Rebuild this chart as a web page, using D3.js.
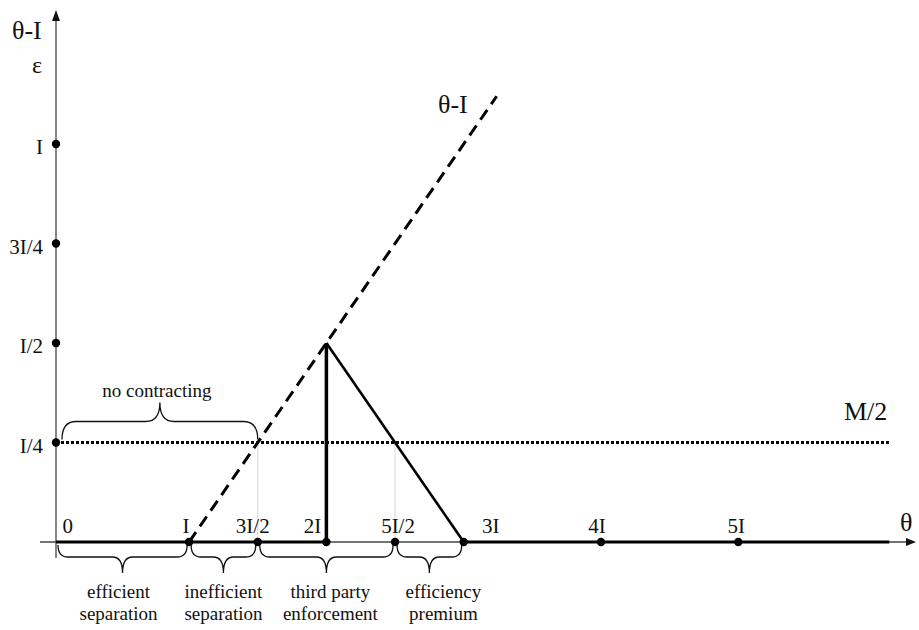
<!DOCTYPE html>
<html>
<head>
<meta charset="utf-8">
<script src="https://cdn.jsdelivr.net/npm/d3@7"></script>
<style>
  html, body { margin: 0; padding: 0; background: #fff; }
  svg { display: block; }
  text { font-family: "Liberation Serif", "Times New Roman", serif; fill: #111; }
</style>
</head>
<body>
<script>
// ---------- data ----------
const xTickValues = [0, 1, 1.5, 2, 2.5, 3, 4, 5];
const xTickLabels = ["0", "I", "3I/2", "2I", "5I/2", "3I", "4I", "5I"];
const xDotValues = [1, 1.5, 2, 2.5, 3, 4, 5];
const yTickValues = [0.25, 0.5, 0.75, 1];
const yTickLabels = ["I/4", "I/2", "3I/4", "I"];
const thetaMinusILine = [[1, 0], [3.24, 1.12]];      // θ - I (dashed)
const verticalAt2I = [[2, 0], [2, 0.5]];
const slopedDown = [[2, 0.5], [3, 0]];
const mHalfLevel = 0.25;                              // M/2 (dotted)
const guideXs = [1.5, 2.5];                           // thin guides from M/2 down to axis
const thickSegments = [[0, 2], [3, 6.1]];
const regionStarts = [0, 1, 1.5, 2.5];
const regionEnds = [1, 1.5, 2.5, 3];
const regionLabels = [["efficient", "separation"], ["inefficient", "separation"], ["third party", "enforcement"], ["efficiency", "premium"]];
const noContractRange = [0, 1.5];
const noContractLabel = "no contracting";

// ---------- layout ----------
const W = 919, H = 630;
const svg = d3.select("body").append("svg").attr("width", W).attr("height", H);
const x = d3.scaleLinear().domain([0, 5]).range([51.8, 738.3]);
const y = d3.scaleLinear().domain([0, 1]).range([542, 144]);
const yAxisX = 56;
const xLabelDx = [16, -3, -5, -14, 3, 27, -4, -2];
const regionLabelDx = [-4, 0, 4, 14];

const line = d3.line().x(d => x(d[0])).y(d => y(d[1]));

// axes
svg.append("line").attr("x1", 40).attr("x2", 908).attr("y1", y(0)).attr("y2", y(0))
  .attr("stroke", "#444").attr("stroke-width", 1.3);
svg.append("path").attr("d", `M916,${y(0)} L906,${y(0) - 4} L906,${y(0) + 4} Z`).attr("fill", "#111");
svg.append("line").attr("x1", yAxisX).attr("x2", yAxisX).attr("y1", 558).attr("y2", 20)
  .attr("stroke", "#444").attr("stroke-width", 1.3);
svg.append("path").attr("d", `M${yAxisX},10 L${yAxisX - 4},21 L${yAxisX + 4},21 Z`).attr("fill", "#111");

// thin guides
guideXs.forEach(v => {
  svg.append("line").attr("x1", x(v)).attr("x2", x(v)).attr("y1", y(mHalfLevel)).attr("y2", y(0))
    .attr("stroke", "#aaa").attr("stroke-width", 1).attr("stroke-dasharray", "1,1");
});

// thick axis segments
thickSegments.forEach(s => {
  svg.append("line").attr("x1", s[0] === 0 ? yAxisX : x(s[0])).attr("x2", x(s[1]))
    .attr("y1", y(0)).attr("y2", y(0)).attr("stroke", "#000").attr("stroke-width", 3.2);
});

// M/2 dotted
svg.append("line").attr("x1", yAxisX).attr("x2", x(6.1)).attr("y1", y(mHalfLevel)).attr("y2", y(mHalfLevel))
  .attr("stroke", "#000").attr("stroke-width", 3).attr("stroke-dasharray", "3,2");

// θ-I dashed
svg.append("path").attr("d", line(thetaMinusILine)).attr("fill", "none")
  .attr("stroke", "#000").attr("stroke-width", 3).attr("stroke-dasharray", "12,7");

// triangle
svg.append("path").attr("d", line(verticalAt2I)).attr("stroke", "#000").attr("stroke-width", 3.5);
svg.append("path").attr("d", line(slopedDown)).attr("stroke", "#000").attr("stroke-width", 2.6);

// dots
xDotValues.forEach(v => svg.append("circle").attr("cx", x(v)).attr("cy", y(0)).attr("r", 4.2).attr("fill", "#000"));
yTickValues.forEach(v => svg.append("circle").attr("cx", yAxisX).attr("cy", y(v)).attr("r", 4.2).attr("fill", "#000"));

// tick labels
xTickValues.forEach((v, i) => {
  svg.append("text").attr("x", x(v) + xLabelDx[i]).attr("y", 533).attr("text-anchor", "middle")
    .attr("font-size", 21).text(xTickLabels[i]);
});
yTickValues.forEach((v, i) => {
  svg.append("text").attr("x", 43).attr("y", y(v) + 10).attr("text-anchor", "end")
    .attr("font-size", 21).text(yTickLabels[i]);
});

// braces
function braceDown(x1, x2, y0) {
  const yh = y0 + 12, yt = y0 + 28, xm = (x1 + x2) / 2, r = 10;
  return `M${x1},${y0} Q${x1},${yh} ${x1 + r},${yh} L${xm - r},${yh} Q${xm},${yh} ${xm},${yt}` +
         ` Q${xm},${yh} ${xm + r},${yh} L${x2 - r},${yh} Q${x2},${yh} ${x2},${y0}`;
}
function braceUp(x1, x2, y0) {
  const yh = y0 - 18, yt = y0 - 37, xm = (x1 + x2) / 2, r = 14;
  return `M${x1},${y0} Q${x1},${yh} ${x1 + r},${yh} L${xm - r},${yh} Q${xm},${yh} ${xm},${yt}` +
         ` Q${xm},${yh} ${xm + r},${yh} L${x2 - r},${yh} Q${x2},${yh} ${x2},${y0}`;
}
regionStarts.forEach((s, i) => {
  const x1 = (s === 0 ? yAxisX + 2 : x(s) + 2), x2 = x(regionEnds[i]) - 2;
  svg.append("path").attr("d", braceDown(x1, x2, y(0) + 3)).attr("fill", "none")
    .attr("stroke", "#111").attr("stroke-width", 1.3);
  const cx = (x1 + x2) / 2 + regionLabelDx[i];
  regionLabels[i].forEach((t, j) => {
    svg.append("text").attr("x", cx).attr("y", 598 + j * 22).attr("text-anchor", "middle")
      .attr("font-size", 19).text(t);
  });
});
{
  const x1 = yAxisX + 6, x2 = x(noContractRange[1]);
  svg.append("path").attr("d", braceUp(x1, x2, y(mHalfLevel) - 3)).attr("fill", "none")
    .attr("stroke", "#111").attr("stroke-width", 1.3);
  svg.append("text").attr("x", (x1 + x2) / 2 - 3).attr("y", 397).attr("text-anchor", "middle")
    .attr("font-size", 19).text(noContractLabel);
}

// other labels
svg.append("text").attr("x", 12).attr("y", 39).attr("font-size", 26).text("θ-I");
svg.append("text").attr("x", 32).attr("y", 73).attr("font-size", 24).text("ε");
svg.append("text").attr("x", 438).attr("y", 113).attr("font-size", 26).text("θ-I");
svg.append("text").attr("x", 844).attr("y", 420).attr("font-size", 26).text("M/2");
svg.append("text").attr("x", 900).attr("y", 531).attr("font-size", 26).text("θ");
</script>
</body>
</html>
